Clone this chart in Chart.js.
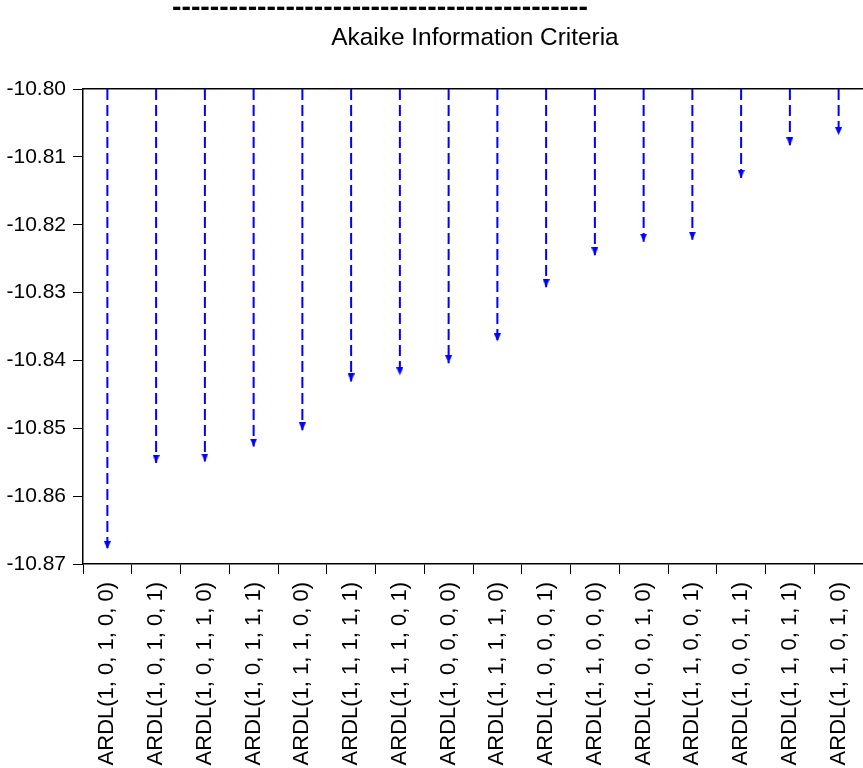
<!DOCTYPE html>
<html>
<head>
<meta charset="utf-8">
<title>Akaike Information Criteria</title>
<script src="https://cdn.jsdelivr.net/npm/chart.js@4/dist/chart.umd.min.js"></script>
<style>
  html, body { margin: 0; padding: 0; background: #ffffff; }
  #wrap { width: 863px; height: 768px; }
</style>
</head>
<body>
<div id="wrap"><canvas id="aic" width="863" height="768"></canvas></div>
<script>
// ARDL model specifications, ordered from best (lowest AIC) to worst
const models = [
  'ARDL(1, 0, 1, 0, 0)',
  'ARDL(1, 0, 1, 0, 1)',
  'ARDL(1, 0, 1, 1, 0)',
  'ARDL(1, 0, 1, 1, 1)',
  'ARDL(1, 1, 1, 0, 0)',
  'ARDL(1, 1, 1, 1, 1)',
  'ARDL(1, 1, 1, 0, 1)',
  'ARDL(1, 0, 0, 0, 0)',
  'ARDL(1, 1, 1, 1, 0)',
  'ARDL(1, 0, 0, 0, 1)',
  'ARDL(1, 1, 0, 0, 0)',
  'ARDL(1, 0, 0, 1, 0)',
  'ARDL(1, 1, 0, 0, 1)',
  'ARDL(1, 0, 0, 1, 1)',
  'ARDL(1, 1, 0, 1, 1)',
  'ARDL(1, 1, 0, 1, 0)'
];

// Akaike information criterion for each model
const aicValues = [
  -10.8678, -10.8551, -10.8549, -10.8527, -10.8503, -10.8431, -10.8422, -10.8404,
  -10.8372, -10.8292, -10.8245, -10.8225, -10.8222, -10.8131, -10.8083, -10.8068
];

// Value axis range and ticks
const axisTop = -10.80;
const axisBottom = -10.87;
const yTicks = [-10.80, -10.81, -10.82, -10.83, -10.84, -10.85, -10.86, -10.87];

const chartTitle = 'Akaike Information Criteria';
const titleRule = '--------------------------------------------';

const FONT = '"Liberation Sans", Arial, Helvetica, sans-serif';
const BLUE = '#0000ff';

// Downward arrowhead whose tip sits at the image centre
function makeArrowHead(w, h, color) {
  const c = document.createElement('canvas');
  c.width = w;
  c.height = h * 2;
  const g = c.getContext('2d');
  g.fillStyle = color;
  g.beginPath();
  g.moveTo(0, 0);
  g.lineTo(w, 0);
  g.lineTo(w / 2, h);
  g.closePath();
  g.fill();
  return c;
}
const arrowHead = makeArrowHead(7, 8, BLUE);

// One dashed drop line per model, from the top of the axis down to its AIC
const datasets = models.map((m, i) => ({
  label: m,
  data: [{ x: m, y: axisTop }, { x: m, y: aicValues[i] }],
  borderColor: BLUE,
  backgroundColor: BLUE,
  borderWidth: 2,
  borderDash: [11, 5],
  tension: 0,
  fill: false,
  pointStyle: (ctx) => (ctx.dataIndex === 1 ? arrowHead : false),
  pointRadius: (ctx) => (ctx.dataIndex === 1 ? 4 : 0),
  pointHoverRadius: 0,
  clip: 6
}));

// Title rule and heading
const headingPlugin = {
  id: 'heading',
  afterDraw(chart) {
    const ctx = chart.ctx;
    ctx.save();
    ctx.fillStyle = '#000000';
    ctx.textBaseline = 'alphabetic';
    ctx.textAlign = 'left';
    ctx.font = 'bold 28.4px ' + FONT;
    ctx.fillText(titleRule, 172, 16);
    ctx.textAlign = 'center';
    ctx.font = '24.4px ' + FONT;
    ctx.fillText(chartTitle, 475, 45);
    ctx.restore();
  }
};

new Chart(document.getElementById('aic'), {
  type: 'line',
  data: { labels: models, datasets },
  options: {
    responsive: false,
    animation: false,
    events: [],
    layout: { autoPadding: false, padding: { top: 89, left: 0, right: 0, bottom: 0 } },
    plugins: {
      legend: { display: false },
      title: { display: false },
      tooltip: { enabled: false }
    },
    scales: {
      x: {
        type: 'category',
        position: 'bottom',
        offset: true,
        grid: {
          offset: true,
          drawOnChartArea: false,
          drawTicks: true,
          tickLength: 10,
          color: '#000000',
          lineWidth: 1
        },
        border: { display: true, color: '#000000', width: 1.5 },
        ticks: {
          autoSkip: false,
          minRotation: 90,
          maxRotation: 90,
          padding: 8,
          color: '#000000',
          font: { family: FONT, size: 22 }
        },
        afterFit(scale) {
          scale.height = 204;
          scale.paddingLeft = 0;
          scale.paddingRight = 0;
        }
      },
      xTop: {
        type: 'category',
        position: 'top',
        offset: true,
        grid: { display: true, drawOnChartArea: false, drawTicks: false },
        border: { display: true, color: '#000000', width: 1.5 },
        ticks: { display: false },
        afterFit(scale) {
          scale.height = 0;
          scale.paddingLeft = 0;
          scale.paddingRight = 0;
        }
      },
      y: {
        type: 'linear',
        min: axisBottom,
        max: axisTop,
        afterBuildTicks(scale) {
          scale.ticks = yTicks.map((v) => ({ value: v }));
        },
        grid: {
          drawOnChartArea: false,
          drawTicks: true,
          tickLength: 10,
          color: '#000000',
          lineWidth: 1
        },
        border: { display: true, color: '#000000', width: 1.5 },
        ticks: {
          padding: 7,
          color: '#000000',
          font: { family: FONT, size: 21 },
          callback: (v) => Number(v).toFixed(2)
        },
        afterFit(scale) { scale.width = 83; }
      }
    }
  },
  plugins: [headingPlugin]
});
</script>
</body>
</html>
